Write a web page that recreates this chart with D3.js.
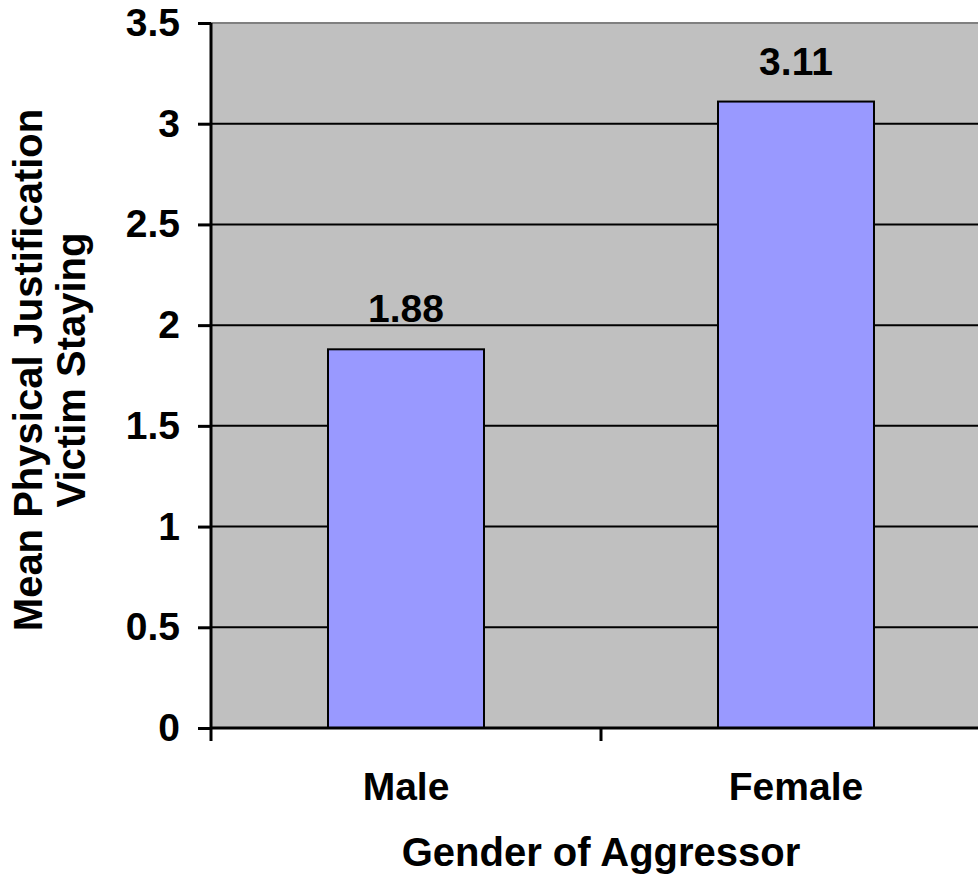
<!DOCTYPE html>
<html>
<head>
<meta charset="utf-8">
<script src="https://cdn.jsdelivr.net/npm/d3@7"></script>
<style>
  html, body { margin: 0; padding: 0; background: #fff; }
  svg { display: block; }
  text { font-family: "Liberation Sans", Arial, sans-serif; font-weight: bold; fill: #000; }
</style>
</head>
<body>
<script>
// Mean physical justification of the victim staying, by gender of aggressor
const categories = ["Male", "Female"];
const meanValues = [1.88, 3.11];
const yTicks = [0, 0.5, 1, 1.5, 2, 2.5, 3, 3.5];
const xTitle = "Gender of Aggressor";
const yTitleLines = ["Mean Physical Justification", "Victim Staying"];

const W = 978, H = 886;
const plot = { left: 211, top: 23, width: 780, bottom: 728 };
const labelSize = 39, titleSize = 40;

const svg = d3.select("body").append("svg")
  .attr("width", W).attr("height", H);

const x = d3.scaleBand()
  .domain(categories)
  .range([plot.left, plot.left + plot.width])
  .paddingInner(0.6).paddingOuter(0.3);

const y = d3.scaleLinear().domain([0, 3.5]).range([plot.bottom, plot.top]);

// plot background
svg.append("rect")
  .attr("x", plot.left).attr("y", plot.top)
  .attr("width", plot.width).attr("height", plot.bottom - plot.top)
  .attr("fill", "#c0c0c0");

// horizontal gridlines
svg.append("g").selectAll("line")
  .data(yTicks.filter(d => d > 0 && d < 3.5))
  .join("line")
  .attr("x1", plot.left).attr("x2", plot.left + plot.width)
  .attr("y1", d => y(d)).attr("y2", d => y(d))
  .attr("stroke", "#000").attr("stroke-width", 2);

// top border
svg.append("line")
  .attr("x1", plot.left).attr("x2", plot.left + plot.width)
  .attr("y1", y(3.5)).attr("y2", y(3.5))
  .attr("stroke", "#808080").attr("stroke-width", 2);

// bars
svg.append("g").selectAll("rect")
  .data(categories)
  .join("rect")
  .attr("x", d => x(d))
  .attr("width", x.bandwidth())
  .attr("y", (d, i) => y(meanValues[i]))
  .attr("height", (d, i) => y(0) - y(meanValues[i]))
  .attr("fill", "#9999ff")
  .attr("stroke", "#000").attr("stroke-width", 2);

// value labels
svg.append("g").selectAll("text")
  .data(categories)
  .join("text")
  .attr("x", d => x(d) + x.bandwidth() / 2)
  .attr("y", (d, i) => y(meanValues[i]) - 27)
  .attr("text-anchor", "middle")
  .attr("font-size", labelSize)
  .text((d, i) => meanValues[i].toFixed(2));

// y axis
const yAxis = d3.axisLeft(y)
  .tickValues(yTicks)
  .tickFormat(d3.format("~g"))
  .tickSize(13).tickPadding(18);
const gy = svg.append("g").attr("transform", `translate(${plot.left},0)`).call(yAxis);
gy.select(".domain").attr("stroke", "#000").attr("stroke-width", 3)
  .attr("d", `M0,${plot.top}V${plot.bottom}`);
gy.selectAll(".tick line").attr("stroke", "#000").attr("stroke-width", 3);
gy.selectAll(".tick text").attr("font-size", labelSize)
  .attr("font-family", "Liberation Sans, Arial, sans-serif")
  .attr("font-weight", "bold").attr("fill", "#000");

// x axis: ticks at category boundaries
const bounds = [plot.left, plot.left + plot.width / 2, plot.left + plot.width];
svg.append("line")
  .attr("x1", plot.left).attr("x2", plot.left + plot.width)
  .attr("y1", plot.bottom).attr("y2", plot.bottom)
  .attr("stroke", "#000").attr("stroke-width", 3);
svg.append("g").selectAll("line")
  .data(bounds)
  .join("line")
  .attr("x1", d => d).attr("x2", d => d)
  .attr("y1", plot.bottom).attr("y2", plot.bottom + 13)
  .attr("stroke", "#000").attr("stroke-width", 3);

svg.append("g").selectAll("text")
  .data(categories)
  .join("text")
  .attr("x", d => x(d) + x.bandwidth() / 2)
  .attr("y", 800)
  .attr("text-anchor", "middle")
  .attr("font-size", labelSize)
  .text(d => d);

// axis titles
svg.append("text")
  .attr("x", 601).attr("y", 866)
  .attr("text-anchor", "middle")
  .attr("font-size", titleSize)
  .text(xTitle);

const yt = svg.append("text")
  .attr("transform", "translate(42,370) rotate(-90)")
  .attr("text-anchor", "middle")
  .attr("font-size", titleSize);
yt.selectAll("tspan").data(yTitleLines).join("tspan")
  .attr("x", 0).attr("dy", (d, i) => i === 0 ? 0 : 43)
  .text(d => d);
</script>
</body>
</html>
